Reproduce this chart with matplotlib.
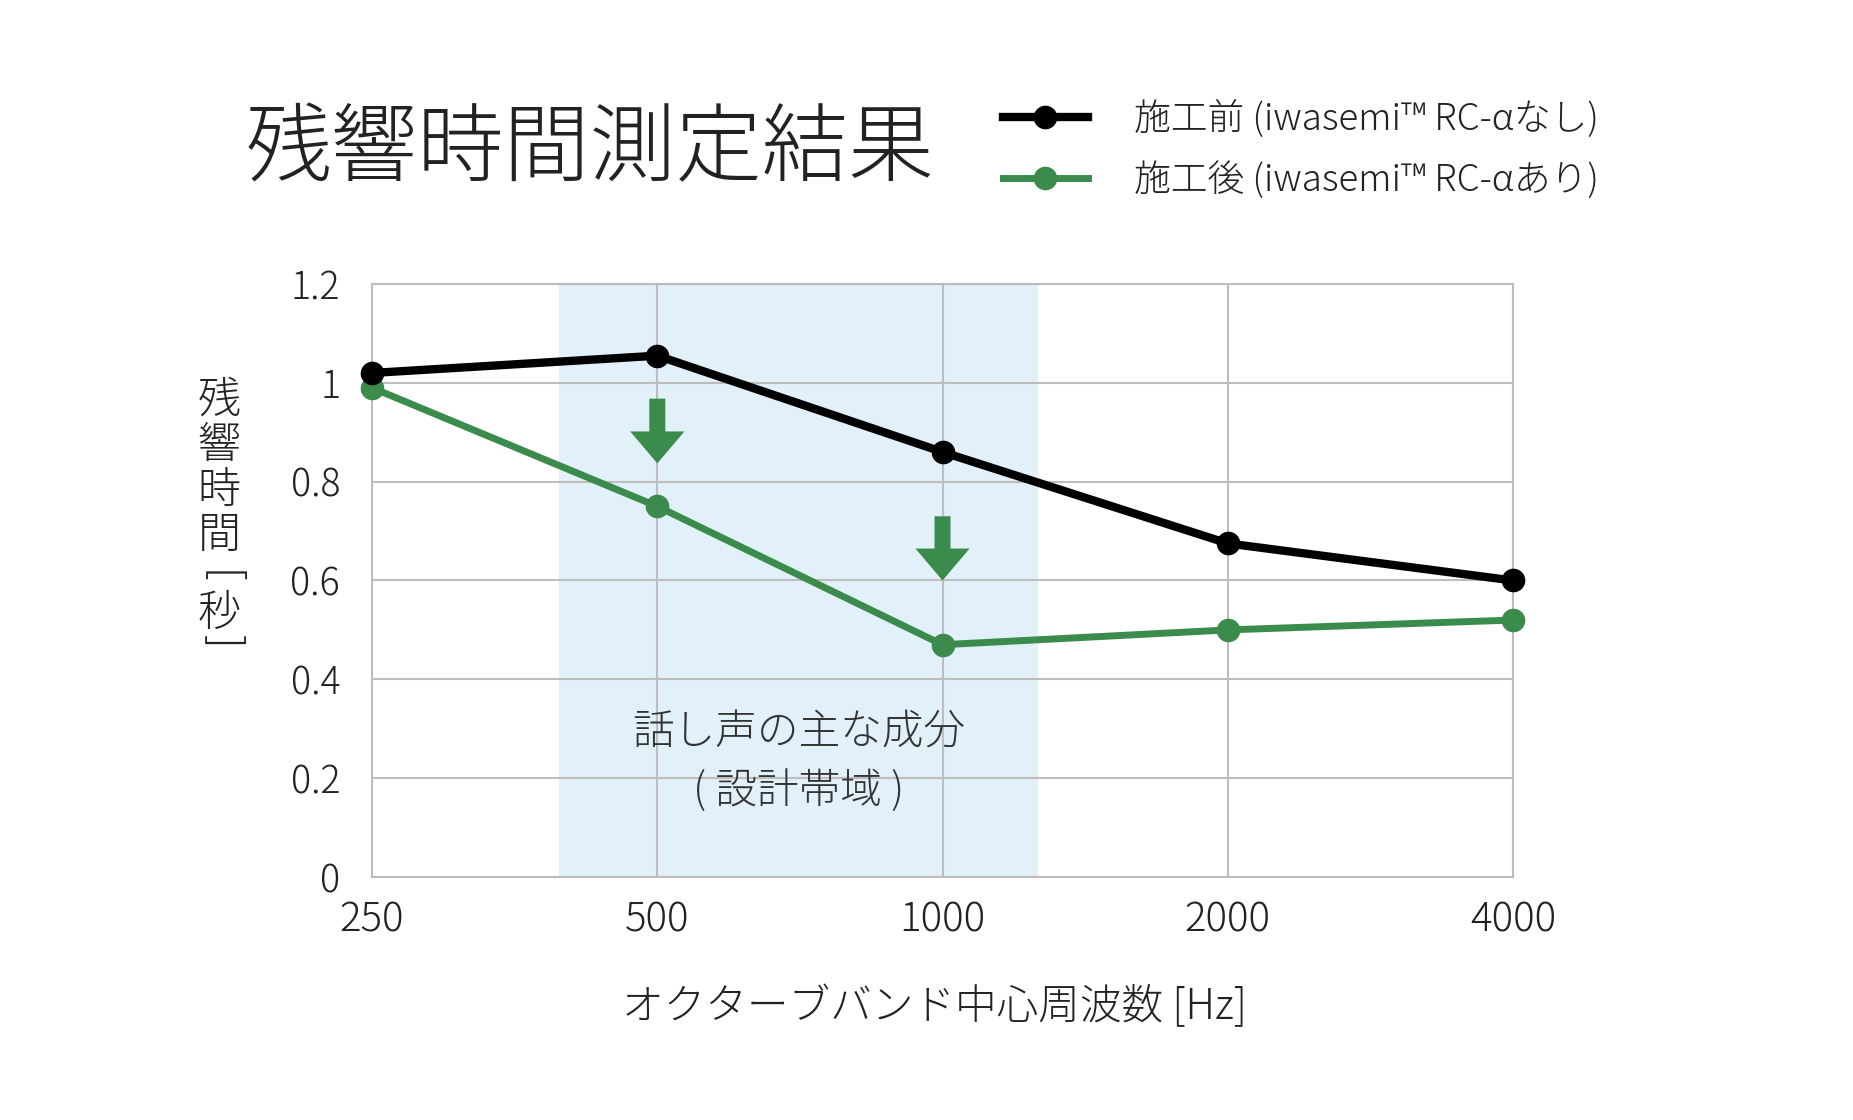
import numpy as np
import matplotlib
matplotlib.use('Agg')
import matplotlib.pyplot as plt
from matplotlib.patches import ArrowStyle

plt.rcParams['font.family'] = ['Noto Sans CJK JP', 'DejaVu Sans']
plt.rcParams['font.weight'] = 'light'
plt.rcParams['axes.labelweight'] = 'light'

# data
freqs = [250, 500, 1000, 2000, 4000]
freq_labels = ['250', '500', '1000', '2000', '4000']
before = [1.02, 1.055, 0.86, 0.675, 0.60]
after = [0.99, 0.75, 0.47, 0.50, 0.52]
band = (394, 1260)
arrow_freqs = [500, 1000]
arrow_top = [0.968, 0.73]
arrow_tip = [0.837, 0.60]
label_before = '施工前 (iwasemi™ RC-αなし)'
label_after = '施工後 (iwasemi™ RC-αあり)'

green = '#3b8b4c'
grid_c = '#bdbdbd'
txt_c = '#222222'

fig = plt.figure(figsize=(18.53, 11.2), dpi=100)
ax = fig.add_axes([0.2008, 0.2170, 0.6157, 0.5294])

ax.set_xscale('log', base=2)
ax.set_xlim(250, 4000)
ax.set_ylim(0, 1.2)

ax.axvspan(band[0], band[1], color='#e2f0fa', lw=0, zorder=0)

ax.set_xticks(freqs)
ax.set_xticklabels(freq_labels)
ax.minorticks_off()
ax.set_yticks([0, 0.2, 0.4, 0.6, 0.8, 1.0, 1.2])
ax.set_yticklabels(['0', '0.2', '0.4', '0.6', '0.8', '1', '1.2'])
ax.grid(True, color=grid_c, lw=1.5, zorder=1)
for s in ax.spines.values():
    s.set_color(grid_c)
    s.set_linewidth(1.5)
ax.tick_params(length=0, labelcolor=txt_c)
ax.tick_params(axis='y', pad=23, labelsize=27)
ax.tick_params(axis='x', pad=16, labelsize=29)

l1, = ax.plot(freqs, before, color='black', lw=6, marker='o', ms=16,
              zorder=4, clip_on=False, label=label_before)
l2, = ax.plot(freqs, after, color=green, lw=5, marker='o', ms=16,
              zorder=3, clip_on=False, label=label_after)

style = ArrowStyle.Simple(head_length=23, head_width=39, tail_width=11.5)
for f, t0, t1 in zip(arrow_freqs, arrow_top, arrow_tip):
    ax.annotate('', xy=(f, t1), xytext=(f, t0),
                arrowprops=dict(arrowstyle=style, color=green, lw=0,
                                shrinkA=0, shrinkB=0, mutation_scale=1),
                zorder=5)

ax.text(np.sqrt(band[0] * band[1]), 0.232, '話し声の主な成分\n( 設計帯域 )',
        ha='center', va='center', fontsize=30, color='#333333',
        linespacing=1.45, zorder=2)

ax.set_xlabel('オクターブバンド中心周波数 [Hz]', fontsize=30, color=txt_c, labelpad=32)
ax.xaxis.label.set_x(0.4927)

# vertical y label, brackets turned for vertical writing
yl_x = 0.1182
fig.text(yl_x, 0.582, '残\n響\n時\n間', ha='center', va='center',
         fontsize=31, color=txt_c, linespacing=1.0)
fig.text(yl_x, 0.483, '[', ha='center', va='center', rotation=-90,
         rotation_mode='anchor', family='DejaVu Sans', fontsize=34, color=txt_c)
fig.text(yl_x, 0.452, '秒', ha='center', va='center',
         fontsize=31, color=txt_c)
fig.text(yl_x, 0.425, ']', ha='center', va='center', rotation=-90,
         rotation_mode='anchor', family='DejaVu Sans', fontsize=34, color=txt_c)

fig.text(0.1328, 0.865, '残響時間測定結果', ha='left', va='center',
         fontsize=62, color=txt_c)

fig.legend(handles=[l1, l2], loc='center left', bbox_to_anchor=(0.5234, 0.866),
           frameon=False, fontsize=26.5, handlelength=2.3, handletextpad=1.25,
           labelspacing=0.6, labelcolor=txt_c)

fig.savefig('out.png', dpi=100)
